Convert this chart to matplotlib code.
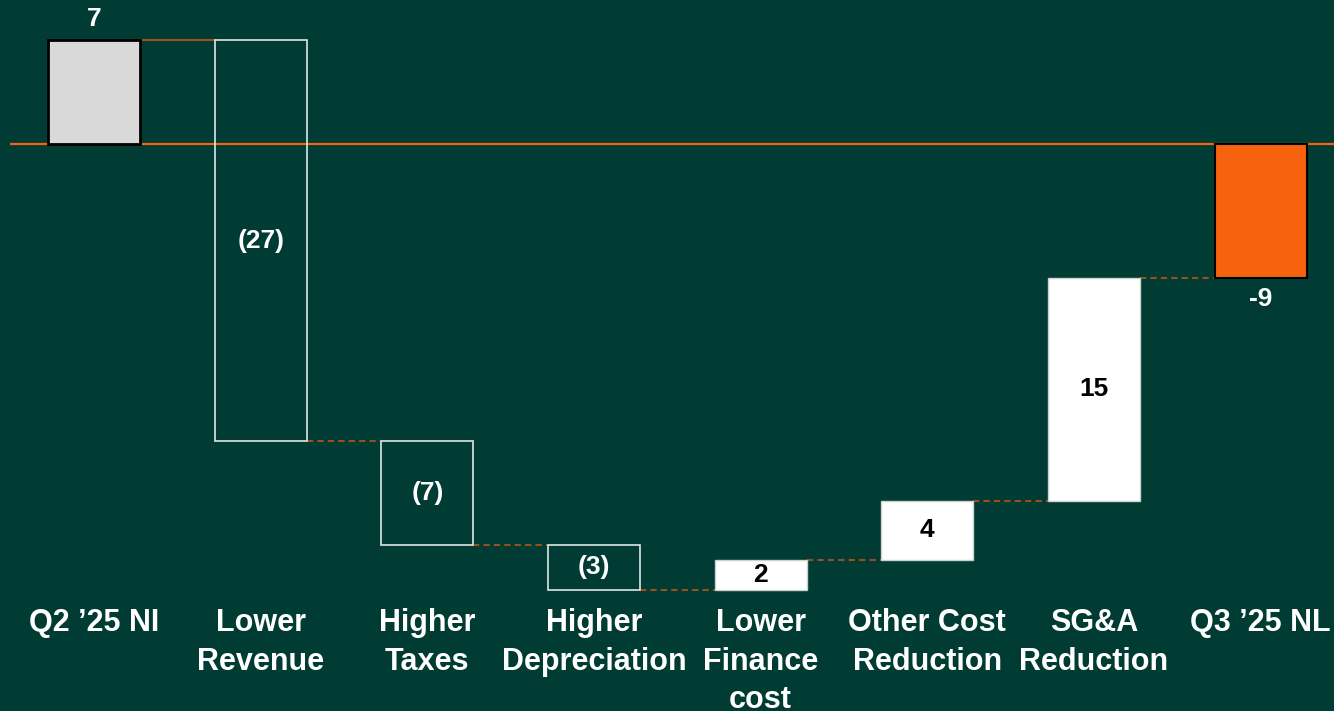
import matplotlib.pyplot as plt
import numpy as np

categories = ["Q2 \u201925 NI", "Lower\nRevenue", "Higher\nTaxes", "Higher\nDepreciation",
              "Lower\nFinance\ncost", "Other Cost\nReduction", "SG&A\nReduction", "Q3 \u201925 NL"]
changes = [7, -27, -7, -3, 2, 4, 15, -9]
value_labels = ["7", "(27)", "(7)", "(3)", "2", "4", "15", "-9"]

BG = '#013c34'
ORANGE = '#f7620f'
CONNECTOR = '#9a4f1c'

plt.rcParams['font.family'] = ['Liberation Sans', 'DejaVu Sans']

# running totals: first and last bars start at zero
bottoms = []
tops = []
running = 0
for i, c in enumerate(changes):
    if i == 0 or i == len(changes) - 1:
        bottoms.append(0)
        tops.append(c)
        running = c
    else:
        bottoms.append(running)
        running += c
        tops.append(running)

x = np.arange(len(categories))
width = 0.552

fig = plt.figure(figsize=(13.34, 7.11), dpi=100, facecolor=BG)
ax = fig.add_axes([0, 0, 1, 1])
ax.set_facecolor(BG)
ax.set_xlim(-0.564, 7.44)
ax.set_ylim(-38.16, 9.69)
ax.axis('off')

ax.hlines(0, -0.504, 7.44, color=ORANGE, linewidth=1.6, zorder=1)

for i in range(len(changes)):
    h = tops[i] - bottoms[i]
    if i == 0:
        ax.bar(x[i], h, width, bottom=bottoms[i], color='#d9d9d9', edgecolor='black', linewidth=2, zorder=3)
    elif i == len(changes) - 1:
        ax.bar(x[i], h, width, bottom=bottoms[i], color=ORANGE, edgecolor='black', linewidth=1.5, zorder=3)
    elif changes[i] < 0:
        ax.bar(x[i], h, width, bottom=bottoms[i], color='none', edgecolor='#dfe6e4', linewidth=1.2, zorder=3)
    else:
        ax.bar(x[i], h, width, bottom=bottoms[i], color='white', edgecolor='#c8d2cf', linewidth=1, zorder=3)

# connectors between bars
for i in range(len(changes) - 1):
    level = tops[i]
    ls = '-' if i == 0 else (0, (3, 2))
    ax.plot([x[i] + width / 2, x[i + 1] - width / 2], [level, level], color=CONNECTOR,
            linewidth=1.5, linestyle=ls, zorder=2)

# value labels
for i, lab in enumerate(value_labels):
    if i == 0:
        ax.text(x[i], tops[i] + 0.6, lab, ha='center', va='bottom', color='white', fontsize=19, fontweight='bold')
    elif i == len(changes) - 1:
        ax.text(x[i], tops[i] - 0.6, lab, ha='center', va='top', color='white', fontsize=19, fontweight='bold')
    else:
        mid = (tops[i] + bottoms[i]) / 2
        col = 'white' if changes[i] < 0 else 'black'
        ax.text(x[i], mid, lab, ha='center', va='center', color=col, fontsize=19, fontweight='bold')

# category labels
for i, cat in enumerate(categories):
    ax.text(x[i], -31.25, cat, ha='center', va='top', color='white', fontsize=22,
            fontweight='bold', linespacing=1.36)

fig.savefig('out.png', dpi=100, facecolor=BG)
